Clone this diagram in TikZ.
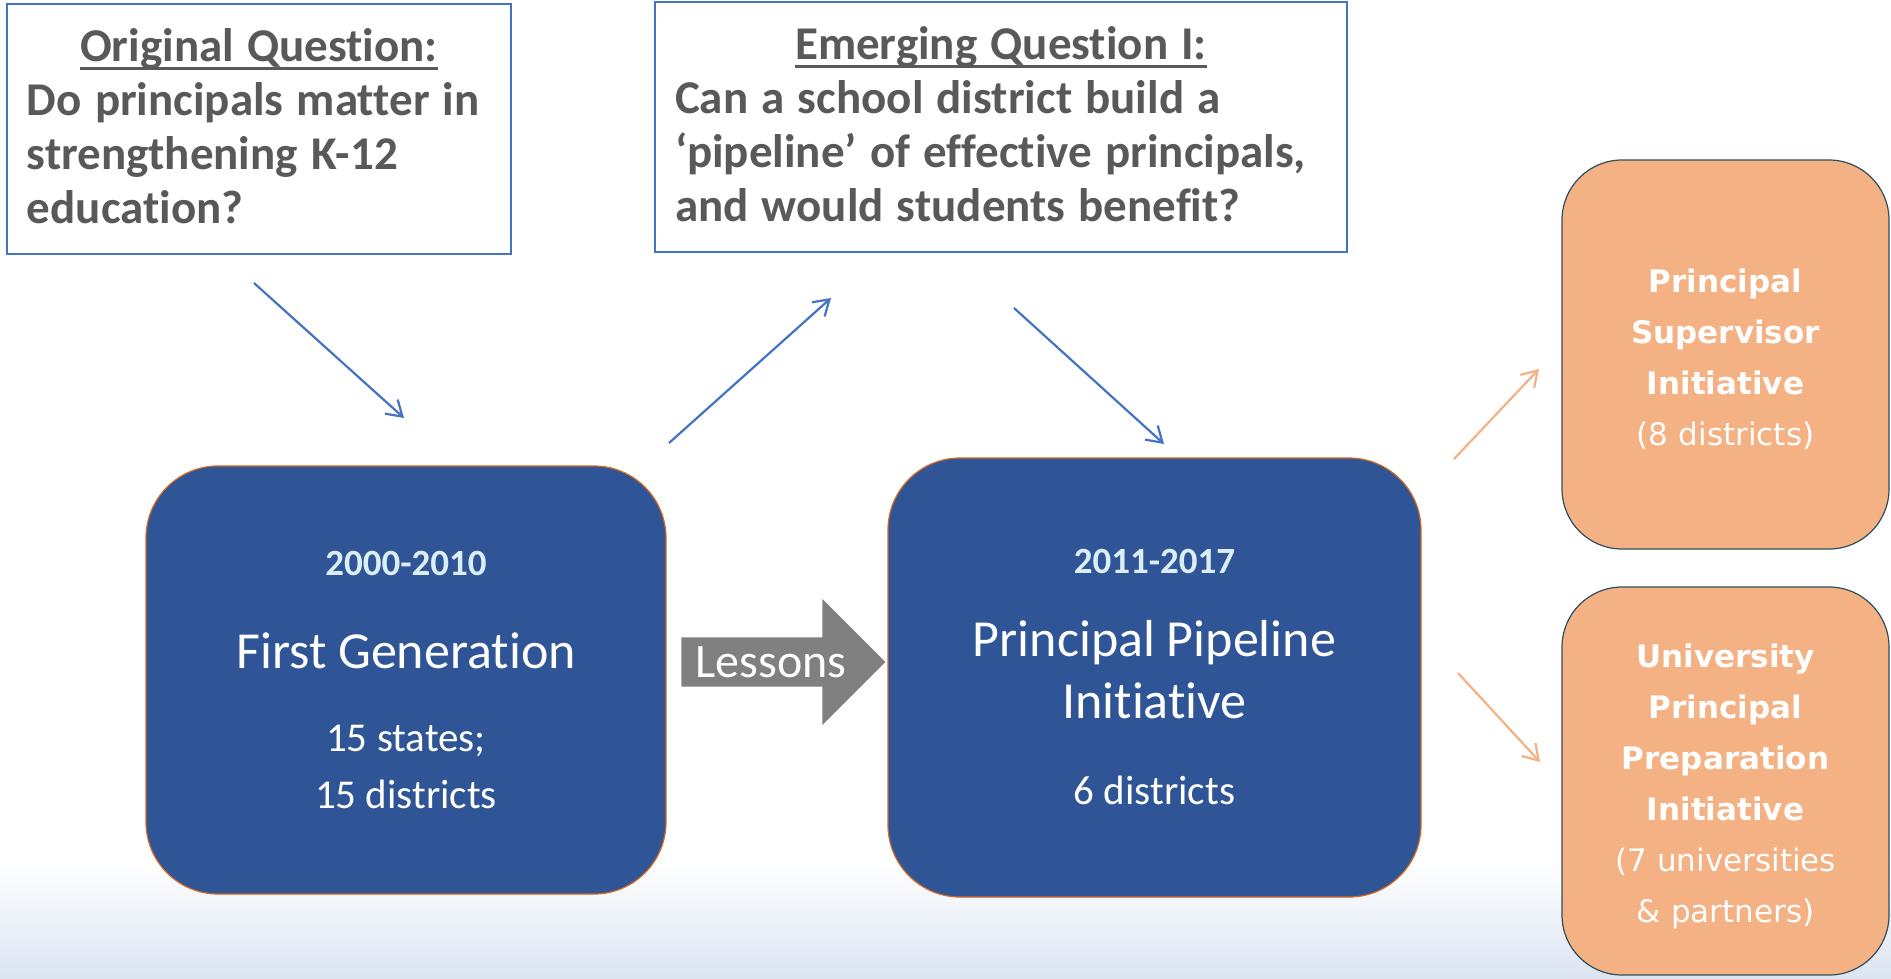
\documentclass[tikz,border=0pt]{standalone}
\usepackage{fontspec}
\setmainfont{Carlito}[Ligatures=NoCommon]
\newfontfamily\verdanafont{DejaVu Sans}
\usetikzlibrary{shapes.arrows,arrows.meta,calc}

\definecolor{qblue}{HTML}{4472C4}
\definecolor{qgray}{HTML}{595959}
\definecolor{eraBlue}{HTML}{2F5597}
\definecolor{eraEdge}{HTML}{D2691E}
\definecolor{yearBlue}{HTML}{DAEEF3}
\definecolor{peach}{HTML}{F4B183}
\definecolor{peachEdge}{HTML}{2F4F5C}
\definecolor{lessonGray}{HTML}{808080}
\definecolor{bgBlue}{HTML}{DCE4F2}

\tikzset{
  question/.style={draw=qblue, line width=1.5pt, fill=white, align=left, text=qgray,
    inner sep=0pt, font=\fontsize{47}{54}\selectfont\bfseries},
  era/.style={draw=eraEdge, line width=1.2pt, fill=eraBlue, rounded corners=72pt,
    text=white, align=center, inner sep=0pt, text width=480pt},
  spinoff/.style={draw=peachEdge, line width=1.2pt, fill=peach, rounded corners=60pt,
    text=white, align=center, inner sep=0pt, text width=300pt,
    font=\verdanafont\fontsize{31}{51}\selectfont},
  lesson/.style={single arrow, fill=lessonGray, text=white, inner sep=0pt,
    font=\fontsize{48}{48}\selectfont, minimum height=204pt, minimum width=126pt,
    single arrow head extend=24.5pt, single arrow tip angle=90},
  qarrow/.style={qblue, line width=2.2pt, -{Straight Barb[length=15pt,width=19pt]}},
  parrow/.style={peach, line width=2.2pt, -{Straight Barb[length=15pt,width=19pt]}}
}
% one line of an era box: size, distance from the line above, text
\newcommand{\eraline}[3]{{\fontsize{#1}{#2}\selectfont\spaceskip=.2265em\xspaceskip=.2265em #3\par}}
\newcommand{\yearline}[1]{{\fontsize{37}{44}\selectfont\bfseries\color{yearBlue}#1\par}}
% centred, underlined first line of a question box
\newcommand{\qhead}[1]{\spaceskip=.28em\relax
  {\centering\setbox0=\hbox{#1}\rlap{\rule[-9pt]{\wd0}{3.5pt}}\box0\par}}

\begin{document}
\begin{tikzpicture}[x=1pt,y=-1pt]
  % page and the faint band at the bottom
  \fill[white] (0,0) rectangle (1891,978);
  \shade[top color=white, bottom color=bgBlue] (0,860) rectangle (1891,978);
  \useasboundingbox (0,0) rectangle (1891,978);

  % the two questions
  \node[question, minimum width=504pt, minimum height=250pt, text width=464pt] (orig) at (259,129)
    {\qhead{Original Question:}Do principals matter in\\strengthening K-12\\education?\rule[-6pt]{0pt}{0pt}};
  \node[question, minimum width=692pt, minimum height=250pt, text width=652pt] (emerg) at (1001,127)
    {\qhead{Emerging Question I:}Can a school district build a\\`pipeline' of effective principals,\\and would students benefit?\rule[-6pt]{0pt}{0pt}};

  % the two grant eras
  \node[era, minimum width=520pt, minimum height=428pt] (gen) at (406,680)
    {\yearline{2000-2010}
     \eraline{52}{93}{First Generation}
     \eraline{41}{83}{15 states;}
     \eraline{41}{57}{15 districts}};
  \node[era, minimum width=533pt, minimum height=439pt] (pipe) at (1154.5,677.5)
    {\yearline{2011-2017}
     \eraline{52}{83}{Principal Pipeline}
     \eraline{52}{62}{Initiative}
     \eraline{41}{86}{6 districts}};

  \node[lesson] (lessons) at (771,662) {Lessons};

  % spin-off initiatives
  \node[spinoff, minimum width=327pt, minimum height=389pt] (super) at (1725.5,354.5)
    {\rule{0pt}{34pt}\textbf{Principal}\\\textbf{Supervisor}\\\textbf{Initiative}\\(8 districts)};
  \node[spinoff, minimum width=327pt, minimum height=388pt] (univ) at (1725.5,781)
    {\rule{0pt}{34pt}\textbf{University}\\\textbf{Principal}\\\textbf{Preparation}\\\textbf{Initiative}\\(7 universities\\\& partners)};

  % connectors
  \coordinate (a1s) at (254,283);  \coordinate (a1e) at (404,418);
  \coordinate (a2s) at (669,443);  \coordinate (a2e) at (831,298);
  \coordinate (a3s) at (1014,308); \coordinate (a3e) at (1164,444);
  \coordinate (b1s) at (1454,459); \coordinate (b1e) at (1539,369);
  \coordinate (b2s) at (1458,673); \coordinate (b2e) at (1540,762);
  \draw[qarrow] (a1s) -- (a1e);
  \draw[qarrow] (a2s) -- (a2e);
  \draw[qarrow] (a3s) -- (a3e);
  \draw[parrow] (b1s) -- (b1e);
  \draw[parrow] (b2s) -- (b2e);
\end{tikzpicture}
\end{document}
